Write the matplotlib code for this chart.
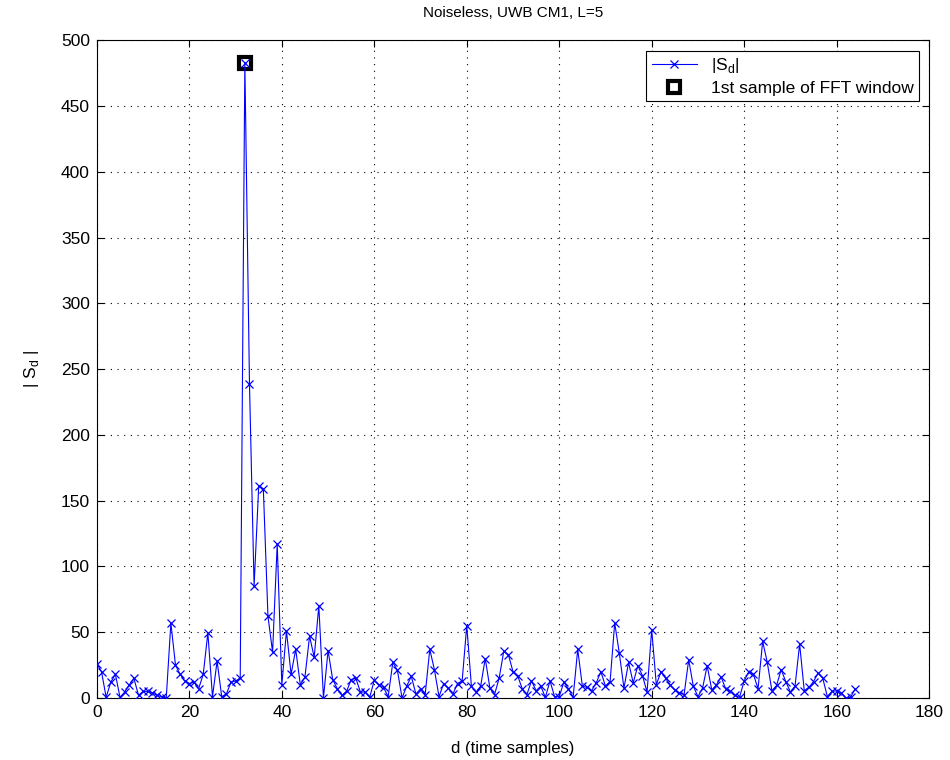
import numpy as np
import matplotlib.pyplot as plt

plt.rcParams['font.family'] = ['Liberation Sans', 'DejaVu Sans']

# |S_d|, d = 0..164
sd = [26, 20, 0.5, 12, 18, 0.5, 4.5, 10, 15, 2,
      5, 5, 4, 2, 1, 0, 57, 25, 18, 13,
      11, 12, 7, 18, 49.5, 1, 28, 1, 3, 12,
      13, 15, 483, 239, 85, 161, 159, 62, 35, 117,
      10, 51, 18, 37, 10, 16, 47, 31, 70, 0,
      36, 14, 7, 2, 5, 14, 15, 4.5, 4.5, 0.5,
      13.5, 10, 8, 1, 27, 21, 0, 9, 16.5, 3,
      7, 2.5, 37, 21.5, 1, 11, 7.5, 3, 11, 13,
      55, 9, 4.5, 9, 30, 7.5, 2.5, 15, 35.5, 33,
      20, 17, 7, 2.5, 13, 5.5, 9, 0.5, 13, 1,
      1, 12, 7, 0.5, 37, 9, 8, 5.5, 11.5, 20,
      9, 12.5, 57, 34, 7.5, 27, 11.5, 24.5, 17, 4.5,
      52, 10, 20, 15, 10, 6, 4, 2.5, 29, 9,
      1, 7.5, 24.5, 6, 10, 16, 7, 5, 2, 0.5,
      13, 20, 18, 7, 43, 27, 5.5, 9.5, 21.5, 12.5,
      4.5, 9, 41, 5.5, 8, 12.5, 19, 15, 1, 5,
      5.5, 4, 0, 0.5, 7]
d = np.arange(len(sd))
fft_start = 32

fig = plt.figure(figsize=(9.5, 7.6), dpi=100)
ax = fig.add_axes([0.102, 0.0816, 0.876, 0.8655])

ax.plot(fft_start, sd[fft_start], 's', color='black', markerfacecolor='white',
        markeredgewidth=3, markersize=9, label='1st sample of FFT window', zorder=3)
ax.plot(d, sd, '-x', color='blue', linewidth=0.8, markersize=6,
        markeredgewidth=0.9, label='|S$_\\mathregular{d}$|', zorder=4)

ax.set_xlim(0, 180)
ax.set_ylim(0, 500)
ax.set_xticks(np.arange(0, 181, 20))
ax.set_yticks(np.arange(0, 501, 50))
ax.tick_params(direction='in', labelsize=12.5, length=5, top=True, right=True, pad=5)
ax.grid(True, linestyle=(0, (1, 5)), color='black', linewidth=0.8)
for s in ax.spines.values():
    s.set_linewidth(0.8)

ax.set_xlabel('d (time samples)', fontsize=12, labelpad=15)
ax.set_ylabel('| S$_\\mathregular{d}$ |', fontsize=12.5, labelpad=14)
ax.set_title('Noiseless, UWB CM1, L=5', fontsize=11, pad=17)

h, l = ax.get_legend_handles_labels()
leg = ax.legend(h[::-1], l[::-1], loc='upper right', fontsize=12.5, fancybox=False,
                edgecolor='black', framealpha=1, borderaxespad=0.6,
                handlelength=2.6, borderpad=0.3, labelspacing=0.35)
leg.get_frame().set_linewidth(0.8)

fig.savefig('out.png', dpi=100)
